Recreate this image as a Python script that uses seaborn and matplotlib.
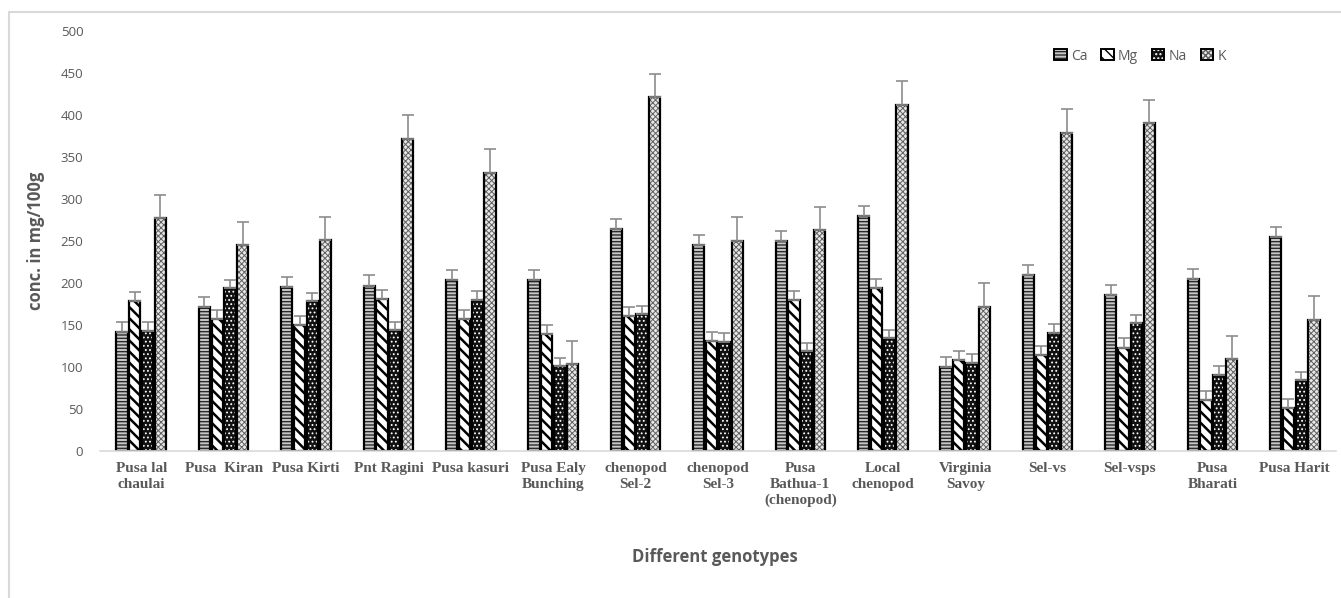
import matplotlib
matplotlib.use("Agg")
import matplotlib.pyplot as plt
import seaborn as sns
import pandas as pd
import numpy as np
from matplotlib.patches import Rectangle

genotypes = ["Pusa lal\nchaulai", "Pusa  Kiran", "Pusa Kirti", "Pnt Ragini", "Pusa kasuri",
             "Pusa Ealy\nBunching", "chenopod\nSel-2", "chenopod\nSel-3", "Pusa\nBathua-1\n(chenopod)",
             "Local\nchenopod", "Virginia\nSavoy", "Sel-vs", "Sel-vsps", "Pusa\nBharati", "Pusa Harit"]
minerals = ["Ca", "Mg", "Na", "K"]
ca = [142, 171, 195, 197, 204, 204, 264, 245, 250, 280, 100, 210, 186, 205, 255]
mg = [178, 157, 150, 181, 157, 139, 161, 131, 180, 194, 108, 114, 123, 61, 51]
na = [143, 194, 178, 144, 180, 101, 163, 130, 119, 134, 105, 141, 152, 91, 84]
k = [277, 245, 251, 372, 331, 103, 421, 250, 263, 412, 172, 379, 390, 109, 156]
err_ca = [12] * 15
err_mg = [11] * 15
err_na = [10] * 15
err_k = [28] * 15

values = {"Ca": ca, "Mg": mg, "Na": na, "K": k}
errors = {"Ca": err_ca, "Mg": err_mg, "Na": err_na, "K": err_k}

rows = []
for m in minerals:
    for g, v in zip(genotypes, values[m]):
        rows.append({"genotype": g, "mineral": m, "value": v})
df = pd.DataFrame(rows)

sns.set_style("white")
plt.rcParams["hatch.linewidth"] = 1.0

fig = plt.figure(figsize=(13.41, 5.98), dpi=100)
ax = fig.add_axes([100 / 1341, 1 - 451 / 598, 1236 / 1341, 420 / 598])

sns.barplot(data=df, x="genotype", y="value", hue="mineral", order=genotypes,
            hue_order=minerals, errorbar=None, width=0.62, gap=0.12, ax=ax, legend=False)

styles = {
    "Ca": dict(face="#c8c8c8", hatch="-----", hc="#2a2a2a", hlw=1.0),
    "Mg": dict(face="white", hatch="\\\\\\", hc="black", hlw=1.8),
    "Na": dict(face="#111111", hatch="....", hc="white", hlw=0.8),
    "K": dict(face="#e8e8e8", hatch="xxxxxx", hc="#606060", hlw=0.7),
}

legend_handles = []
for cont, m in zip(ax.containers, minerals):
    st = styles[m]
    xs, tops = [], []
    for p in cont.patches:
        p.set_facecolor(st["face"])
        p.set_hatch(st["hatch"])
        p.set_edgecolor(st["hc"])
        p.set_linewidth(0)
        try:
            p.set_hatch_linewidth(st["hlw"])
        except Exception:
            pass
        outline = Rectangle(p.get_xy(), p.get_width(), p.get_height(), fill=False,
                            edgecolor="black", linewidth=1.6, zorder=p.get_zorder() + 0.1)
        ax.add_patch(outline)
        xs.append(p.get_x() + p.get_width() / 2)
        tops.append(p.get_height())
    ax.errorbar(xs, tops, yerr=[np.zeros(len(xs)), errors[m]], fmt="none",
                ecolor="#8c8c8c", elinewidth=1.2, capsize=4.5, capthick=1.2, zorder=5)
    h = Rectangle((0, 0), 1, 1, facecolor=st["face"], hatch=st["hatch"], edgecolor=st["hc"],
                  linewidth=0)
    try:
        h.set_hatch_linewidth(st["hlw"])
    except Exception:
        pass
    o = Rectangle((0, 0), 1, 1, fill=False, edgecolor="black", linewidth=1.4)
    legend_handles.append((h, o))

ax.set_ylim(0, 500)
ax.set_yticks(range(0, 501, 50))
ax.set_xlim(-0.5, 14.5)

for s in ["top", "right", "left"]:
    ax.spines[s].set_visible(False)
ax.spines["bottom"].set_color("#d9d9d9")
ax.spines["bottom"].set_linewidth(1.2)
ax.tick_params(axis="both", length=0)
ax.tick_params(axis="y", labelsize=9.5, labelcolor="#595959", pad=12)
for t in ax.get_yticklabels():
    t.set_family(["Open Sans", "DejaVu Sans"])
ax.set_xticks(range(len(genotypes)))
ax.set_xticklabels(genotypes, family="Liberation Serif", fontweight="bold", fontsize=11,
                   color="#595959", linespacing=1.25, va="top")
ax.tick_params(axis="x", pad=8)

ax.set_ylabel("conc. in mg/100g", family=["Open Sans", "DejaVu Sans"], fontweight="bold",
              fontsize=12, color="#595959")
ax.yaxis.set_label_coords((45 - 100) / 1236, 0.5)
ax.set_xlabel("")
fig.text(715 / 1341, 1 - 557 / 598, "Different genotypes", family=["Open Sans", "DejaVu Sans"],
         fontweight="bold", fontsize=12, color="#595959", ha="center", va="center")

leg = ax.legend(legend_handles, minerals, ncol=4, frameon=False, loc="center",
                bbox_to_anchor=((1140 - 100) / 1236, (451 - 56) / 420),
                handlelength=0.9, handleheight=0.9, handletextpad=0.3, columnspacing=1.0,
                prop={"family": "Open Sans", "size": 10})
for t in leg.get_texts():
    t.set_color("#595959")

# outer chart frame (left and top visible)
fig.add_artist(plt.Line2D([8.5 / 1341, 8.5 / 1341], [0, 1 - 11.5 / 598], transform=fig.transFigure,
                          color="#d9d9d9", linewidth=1.5))
fig.add_artist(plt.Line2D([8.5 / 1341, 1], [1 - 11.5 / 598, 1 - 11.5 / 598], transform=fig.transFigure,
                          color="#d9d9d9", linewidth=1.5))

fig.savefig("out.png", dpi=100, facecolor="white")
